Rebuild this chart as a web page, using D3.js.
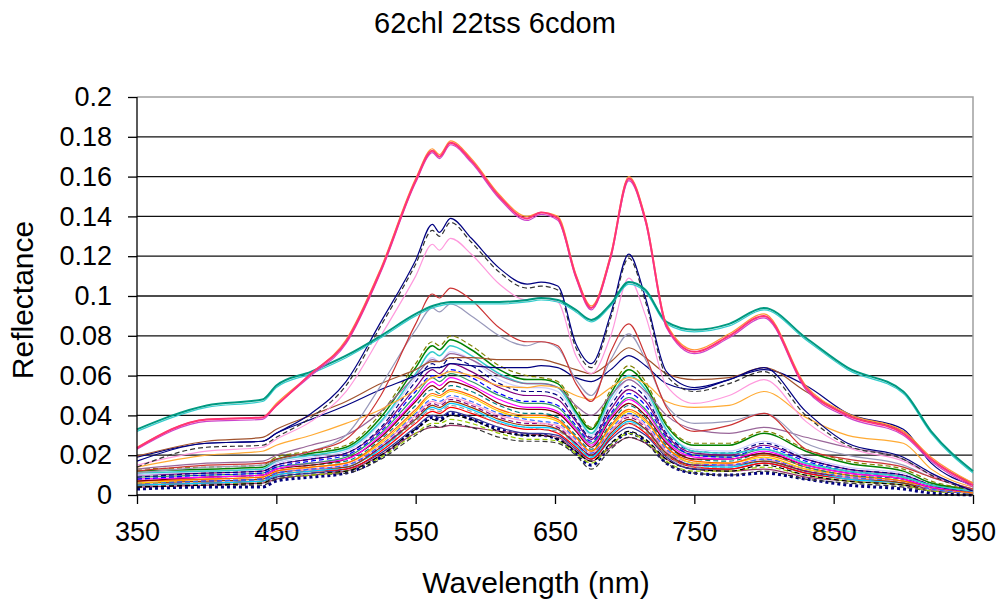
<!DOCTYPE html>
<html>
<head>
<meta charset="utf-8">
<script src="https://cdn.jsdelivr.net/npm/d3@7"></script>
<style>
  body { margin: 0; background: #fff; }
  svg { font-family: "Liberation Sans", Arial, sans-serif; }
</style>
</head>
<body>
<svg width="1000" height="605"></svg>
<script>
// wavelengths sampled (nm)
const wavelengths = [350, 400, 440, 450, 475, 500, 525, 550, 562, 567, 575, 590, 610, 630, 640, 652, 665, 676, 690, 703, 715, 730, 750, 775, 800, 830, 860, 900, 920, 950];
const xTicks = [350, 450, 550, 650, 750, 850, 950];
const yTicks = [0, 0.02, 0.04, 0.06, 0.08, 0.1, 0.12, 0.14, 0.16, 0.18, 0.2];

// high spectra
const pinkA   = [.0236,.038,.039,.045,.061,.077,.113,.158,.173,.170,.177,.168,.150,.139,.142,.139,.110,.094,.120,.159,.138,.085,.072,.080,.090,.054,.040,.031,.018,.005];
const pinkB   = [.024,.038,.039,.046,.061,.078,.114,.159,.174,.171,.178,.169,.151,.140,.142,.140,.111,.095,.121,.160,.139,.086,.073,.081,.091,.055,.041,.032,.019,.006];
const pinkC   = [.023,.037,.038,.045,.060,.076,.112,.157,.172,.169,.176,.167,.149,.138,.141,.138,.109,.093,.119,.158,.137,.084,.071,.079,.089,.053,.039,.030,.017,.004];
const tealA   = [.033,.045,.048,.055,.062,.070,.080,.091,.095,.096,.097,.097,.097,.098,.099,.098,.093,.088,.096,.107,.103,.087,.083,.086,.094,.079,.064,.052,.032,.012];
const tealB   = [.032,.044,.047,.054,.061,.069,.079,.090,.094,.095,.096,.096,.096,.097,.098,.097,.092,.087,.095,.106,.102,.086,.082,.085,.093,.078,.063,.051,.031,.011];
const navyA   = [.017,.026,.027,.031,.041,.057,.087,.118,.136,.132,.139,.129,.114,.106,.107,.105,.076,.066,.091,.121,.099,.062,.054,.058,.064,.042,.026,.019,.011,.002];
const navyB   = [.014,.024,.025,.029,.039,.055,.085,.116,.133,.130,.137,.127,.112,.104,.105,.103,.074,.064,.089,.119,.097,.060,.052,.056,.062,.040,.025,.018,.010,.002];
const pinkL   = [.015,.022,.024,.028,.037,.052,.080,.110,.126,.123,.129,.121,.106,.098,.099,.097,.070,.061,.080,.109,.090,.055,.046,.050,.058,.037,.024,.017,.010,.002];
const redA    = [.012,.015,.016,.018,.022,.028,.050,.086,.101,.099,.104,.098,.084,.077,.077,.075,.056,.047,.072,.086,.070,.044,.032,.035,.041,.023,.018,.014,.009,.003];
const greyA   = [.011,.014,.015,.017,.022,.030,.055,.083,.094,.092,.096,.090,.080,.075,.077,.074,.058,.050,.068,.081,.068,.045,.036,.037,.041,.026,.020,.015,.009,.003];
const brownA  = [.0195,.027,.029,.033,.040,.047,.056,.063,.067,.067,.069,.069,.068,.068,.068,.066,.063,.061,.067,.074,.069,.061,.058,.059,.064,.052,.040,.032,.018,.006];
const navyC   = [.019,.026,.027,.031,.038,.045,.053,.060,.064,.064,.066,.065,.064,.064,.065,.064,.059,.057,.063,.070,.065,.056,.053,.058,.063,.055,.041,.033,.016,.005];
const goldA   = [.014,.020,.022,.025,.030,.036,.043,.053,.059,.060,.062,.060,.055,.054,.055,.054,.050,.048,.054,.059,.056,.047,.044,.045,.052,.039,.030,.026,.013,.004];
const mauveA  = [.013,.016,.017,.020,.025,.030,.042,.060,.068,.067,.071,.068,.060,.056,.056,.054,.045,.040,.050,.058,.052,.040,.033,.031,.034,.029,.024,.018,.010,.003];

// bulk spectra
const bulk01 = [.013,.014,.015,.019,.022,.025,.041,.066,.077,.075,.080,.075,.065,.060,.059,.057,.044,.034,.053,.065,.057,.036,.026,.026,.032,.023,.017,.013,.007,.003];
const bulk02 = [.012,.013,.014,.018,.021,.024,.039,.064,.075,.073,.078,.073,.063,.058,.058,.056,.042,.033,.051,.063,.055,.035,.025,.025,.031,.022,.016,.012,.006,.003];
const bulk03 = [.011,.012,.013,.017,.020,.023,.037,.061,.072,.070,.075,.070,.061,.056,.056,.054,.041,.031,.049,.060,.053,.033,.022,.021,.023,.016,.012,.009,.005,.002];
const bulk04 = [.010,.012,.013,.016,.019,.022,.036,.059,.069,.067,.072,.068,.058,.054,.054,.052,.040,.030,.047,.058,.051,.032,.023,.022,.027,.019,.014,.011,.006,.002];
const bulk05 = [.009,.011,.012,.015,.018,.021,.034,.057,.066,.064,.069,.065,.056,.052,.052,.050,.038,.029,.045,.055,.049,.031,.022,.021,.026,.018,.013,.010,.005,.002];
const bulk06 = [.010,.011,.012,.015,.018,.021,.033,.054,.063,.061,.066,.062,.054,.050,.050,.048,.037,.028,.043,.053,.047,.030,.021,.020,.025,.018,.013,.010,.005,.002];
const bulk07 = [.008,.010,.011,.014,.017,.020,.032,.052,.060,.059,.063,.059,.051,.047,.047,.045,.035,.027,.041,.051,.045,.029,.020,.019,.024,.017,.012,.009,.005,.002];
const bulk08 = [.009,.010,.011,.014,.016,.019,.031,.050,.059,.057,.061,.057,.050,.046,.046,.044,.034,.026,.040,.049,.043,.028,.020,.019,.023,.016,.012,.009,.005,.002];
const bulk09 = [.008,.009,.010,.013,.016,.018,.030,.048,.057,.055,.059,.055,.048,.044,.044,.042,.033,.025,.039,.048,.042,.027,.019,.018,.022,.015,.011,.008,.004,.002];
const bulk10 = [.007,.009,.010,.013,.015,.018,.029,.047,.055,.053,.057,.054,.046,.043,.043,.041,.032,.024,.038,.046,.040,.026,.018,.018,.021,.015,.011,.008,.004,.002];
const bulk11 = [.008,.009,.010,.013,.015,.017,.028,.045,.053,.051,.055,.052,.045,.041,.041,.039,.030,.023,.036,.045,.039,.025,.018,.017,.021,.014,.010,.008,.004,.002];
const bulk12 = [.007,.008,.009,.012,.014,.016,.027,.043,.051,.050,.053,.050,.043,.040,.040,.038,.029,.022,.035,.043,.038,.024,.017,.016,.020,.014,.010,.007,.004,.001];
const bulk13 = [.006,.008,.009,.012,.014,.016,.026,.042,.050,.049,.052,.049,.042,.039,.039,.037,.029,.022,.034,.042,.037,.024,.016,.016,.019,.013,.010,.007,.004,.001];
const bulk14 = [.006,.007,.008,.011,.013,.015,.025,.041,.048,.047,.050,.047,.041,.038,.037,.036,.028,.021,.033,.041,.036,.023,.016,.015,.018,.013,.009,.007,.003,.001];
const bulk15 = [.007,.008,.009,.012,.013,.015,.025,.040,.047,.046,.049,.046,.040,.037,.036,.035,.027,.021,.032,.040,.035,.022,.016,.015,.018,.013,.009,.007,.003,.001];
const bulk16 = [.006,.007,.008,.011,.013,.015,.024,.039,.046,.045,.048,.045,.039,.036,.036,.034,.026,.020,.032,.039,.034,.022,.015,.015,.018,.012,.009,.007,.003,.001];
const bulk17 = [.006,.007,.008,.011,.013,.014,.024,.038,.045,.044,.047,.044,.038,.035,.035,.033,.026,.020,.031,.038,.033,.021,.015,.015,.017,.012,.009,.006,.003,.001];
const bulk18 = [.005,.006,.007,.010,.012,.014,.023,.038,.044,.043,.046,.043,.037,.034,.034,.033,.025,.019,.030,.037,.033,.021,.015,.014,.017,.012,.008,.006,.003,.001];
const bulk19 = [.006,.007,.008,.010,.012,.014,.023,.037,.043,.042,.045,.042,.036,.034,.033,.032,.025,.019,.030,.036,.032,.020,.014,.014,.017,.012,.008,.006,.003,.001];
const bulk20 = [.005,.006,.007,.010,.012,.013,.022,.036,.042,.041,.044,.041,.036,.033,.033,.031,.024,.018,.029,.036,.031,.020,.014,.013,.016,.011,.008,.006,.003,.001];
const bulk21 = [.005,.006,.007,.009,.011,.013,.021,.034,.040,.039,.042,.039,.034,.031,.031,.030,.023,.018,.028,.034,.030,.019,.013,.013,.016,.011,.008,.006,.003,.001];
const bulk22 = [.004,.005,.006,.009,.011,.012,.020,.033,.038,.037,.040,.038,.032,.030,.030,.028,.022,.017,.026,.032,.028,.018,.013,.012,.015,.010,.007,.005,.003,.001];
const bulk23 = [.005,.006,.006,.009,.010,.012,.019,.031,.036,.036,.038,.036,.031,.028,.028,.027,.021,.016,.025,.031,.027,.017,.012,.012,.014,.010,.007,.005,.002,.001];
const bulk24 = [.004,.005,.005,.008,.010,.011,.018,.030,.035,.034,.036,.034,.029,.027,.027,.026,.020,.013,.023,.029,.026,.016,.011,.010,.012,.008,.006,.004,.002,.001];
const bulk25 = [.004,.005,.006,.008,.010,.012,.020,.031,.034,.034,.035,.034,.032,.031,.030,.029,.022,.017,.024,.029,.026,.018,.013,.012,.013,.009,.007,.005,.002,.001];
const bulk26 = [.003,.004,.004,.007,.009,.011,.019,.033,.039,.038,.041,.038,.033,.030,.030,.028,.021,.015,.025,.031,.027,.016,.011,.010,.011,.008,.005,.003,.001,.000];

// drawing order + styles (bottom layer first)
const series = [
  { v: bulk26, c: "#000080", w: 3, d: "3,3" },
  { v: bulk25, c: "#993366", w: 1.2 },
  { v: bulk24, c: "#333333", w: 1.2, d: "5,3" },
  { v: bulk23, c: "#99cc00", w: 1.2, d: "5,3" },
  { v: bulk22, c: "#000000", w: 1.2, d: "5,3" },
  { v: bulk21, c: "#333399", w: 1.2 },
  { v: bulk20, c: "#ff0000", w: 1.2 },
  { v: bulk19, c: "#969696", w: 1.2, d: "5,3" },
  { v: bulk18, c: "#00ccff", w: 1.2 },
  { v: bulk17, c: "#993300", w: 1.2 },
  { v: bulk16, c: "#800080", w: 1.2, d: "5,3" },
  { v: bulk15, c: "#ff99cc", w: 1.2 },
  { v: bulk14, c: "#3366ff", w: 1.2, d: "5,3" },
  { v: bulk13, c: "#ffcc00", w: 1.2 },
  { v: bulk12, c: "#ff6600", w: 1.2 },
  { v: bulk11, c: "#008080", w: 1.2, d: "5,3" },
  { v: bulk10, c: "#800000", w: 1.2 },
  { v: bulk09, c: "#ff00ff", w: 1.2 },
  { v: bulk08, c: "#339966", w: 1.2 },
  { v: bulk07, c: "#0000ff", w: 1.2, d: "5,3" },
  { v: bulk06, c: "#800080", w: 1.2 },
  { v: bulk05, c: "#000080", w: 1.2, d: "5,3" },
  { v: bulk04, c: "#ccccff", w: 1.2 },
  { v: bulk03, c: "#33cccc", w: 1.5 },
  { v: bulk02, c: "#008000", w: 1.5 },
  { v: bulk01, c: "#808000", w: 1.2, d: "5,3" },
  { v: mauveA, c: "#996699", w: 1.2 },
  { v: goldA,  c: "#ffaa33", w: 1.2 },
  { v: navyC,  c: "#000080", w: 1.2 },
  { v: brownA, c: "#a0522d", w: 1.2 },
  { v: greyA,  c: "#9999bb", w: 1.2 },
  { v: redA,   c: "#cc3333", w: 1.2 },
  { v: pinkL,  c: "#ff99dd", w: 1.2 },
  { v: navyB,  c: "#333333", w: 1.2, d: "5,3" },
  { v: navyA,  c: "#000080", w: 1.2 },
  { v: tealB,  c: "#33cccc", w: 1.2 },
  { v: tealA,  c: "#009980", w: 2 },
  { v: pinkC,  c: "#cc44cc", w: 1.2 },
  { v: pinkB,  c: "#ff9933", w: 1.2 },
  { v: pinkA,  c: "#ff3377", w: 2 }
];

const margin = { top: 97, right: 27, bottom: 110, left: 137 };
const width = 1000, height = 605;

const x = d3.scaleLinear().domain([350, 950]).range([margin.left, width - margin.right]);
const y = d3.scaleLinear().domain([0, 0.2]).range([height - margin.bottom, margin.top]);

const svg = d3.select("svg");

// gridlines
svg.append("g")
  .selectAll("line")
  .data(yTicks.filter(t => t > 0 && t < 0.2))
  .join("line")
  .attr("x1", x(350)).attr("x2", x(950))
  .attr("y1", d => y(d)).attr("y2", d => y(d))
  .attr("stroke", "#111").attr("stroke-width", 1.3);

// plot border (top/right grey)
svg.append("path")
  .attr("d", `M${x(350)},${y(0.2)}H${x(950)}V${y(0)}`)
  .attr("fill", "none").attr("stroke", "#a0a0a0").attr("stroke-width", 1.5);

const line = d3.line()
  .x((d, i) => x(wavelengths[i]))
  .y(d => y(d))
  .curve(d3.curveMonotoneX);

svg.append("g")
  .selectAll("path")
  .data(series)
  .join("path")
  .attr("d", s => line(s.v))
  .attr("fill", "none")
  .attr("stroke", s => s.c)
  .attr("stroke-width", s => s.w)
  .attr("stroke-dasharray", s => s.d || null)
  .attr("stroke-linejoin", "round");

// axes
const xAxis = d3.axisBottom(x).tickValues(xTicks).tickSize(9).tickPadding(18).tickFormat(d3.format("d"));
const yAxis = d3.axisLeft(y).tickValues(yTicks).tickSize(9).tickPadding(16).tickFormat(d => d === 0 ? "0" : String(+d.toFixed(2)));

const gx = svg.append("g").attr("transform", `translate(0,${y(0)})`).call(xAxis);
const gy = svg.append("g").attr("transform", `translate(${x(350)},0)`).call(yAxis);

[gx, gy].forEach(g => {
  g.select(".domain").attr("stroke", "#000").attr("stroke-width", 1.3);
  g.selectAll(".tick line").attr("stroke", "#000").attr("stroke-width", 1.3);
  g.selectAll("text").attr("font-size", 27).attr("fill", "#000")
    .attr("font-family", "Liberation Sans, Arial, sans-serif");
});
gx.select(".domain").attr("d", `M${x(350)},0H${x(950)}`);
gy.select(".domain").attr("d", `M0,${y(0)}V${y(0.2)}`);

// titles
svg.append("text")
  .attr("x", 495).attr("y", 33)
  .attr("text-anchor", "middle")
  .attr("font-size", 29)
  .text("62chl 22tss 6cdom");

svg.append("text")
  .attr("x", 536).attr("y", 593)
  .attr("text-anchor", "middle")
  .attr("font-size", 30)
  .text("Wavelength (nm)");

svg.append("text")
  .attr("transform", "translate(33,300) rotate(-90)")
  .attr("text-anchor", "middle")
  .attr("font-size", 30)
  .text("Reflectance");
</script>
</body>
</html>
